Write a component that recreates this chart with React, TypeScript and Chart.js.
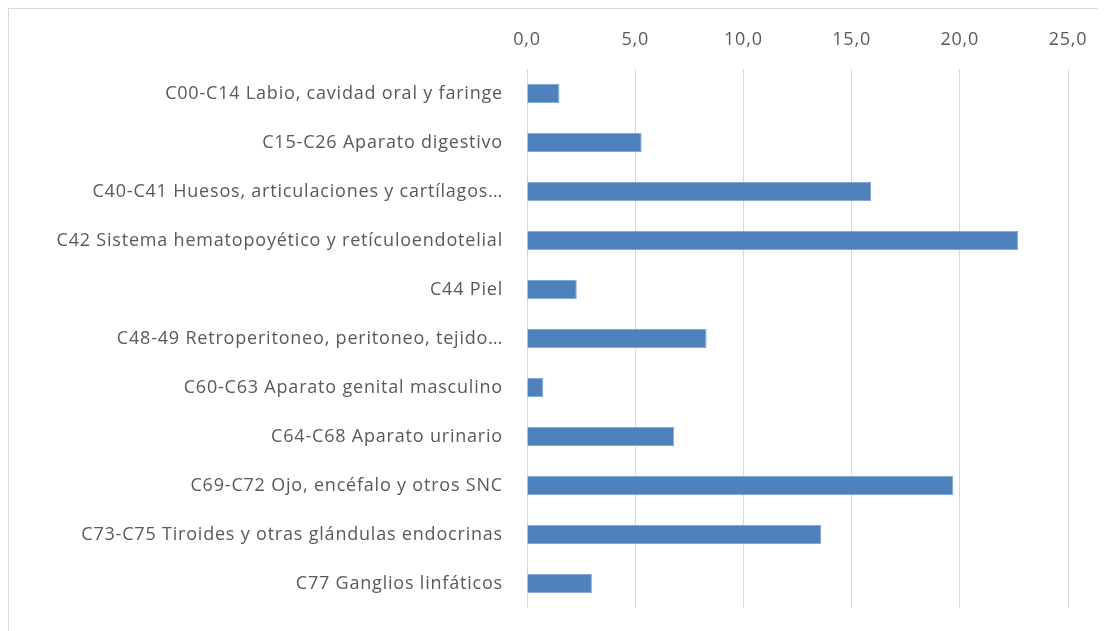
import React, { useEffect, useRef } from "react";
import { Chart, registerables } from "chart.js";

Chart.register(...registerables);

const categories = [
  "C00-C14 Labio, cavidad oral y faringe",
  "C15-C26 Aparato digestivo",
  "C40-C41 Huesos, articulaciones y cartílagos…",
  "C42 Sistema hematopoyético y retículoendotelial",
  "C44 Piel",
  "C48-49 Retroperitoneo, peritoneo, tejido…",
  "C60-C63 Aparato genital masculino",
  "C64-C68 Aparato urinario",
  "C69-C72 Ojo, encéfalo y otros SNC",
  "C73-C75 Tiroides y otras glándulas endocrinas",
  "C77 Ganglios linfáticos",
];

const values = [1.5, 5.3, 15.9, 22.7, 2.3, 8.3, 0.75, 6.8, 19.7, 13.6, 3.0];

const xMin = 0;
const xMax = 25;
const xStep = 5;

const spacingPlugin = {
  id: "letterSpacing",
  beforeDraw: (chart: any) => {
    try {
      (chart.ctx as any).letterSpacing = "0.8px";
    } catch (e) {}
  },
};

export default function App() {
  const ref = useRef<HTMLCanvasElement | null>(null);

  useEffect(() => {
    if (!ref.current) return;
    const font = { family: "'Open Sans', sans-serif", size: 18 };
    const chart = new Chart(ref.current, {
      type: "bar",
      data: {
        labels: categories,
        datasets: [
          {
            data: values,
            backgroundColor: "#4f81bd",
            borderColor: "#86a8d4",
            borderWidth: 1,
            barPercentage: 0.39,
            categoryPercentage: 1,
          },
        ],
      },
      options: {
        indexAxis: "y",
        animation: false,
        responsive: false,
        maintainAspectRatio: false,
        layout: { padding: { top: 0, right: 38, bottom: 23, left: 0 } },
        plugins: { legend: { display: false }, tooltip: { enabled: false } },
        scales: {
          x: {
            position: "top",
            min: xMin,
            max: xMax,
            ticks: {
              stepSize: xStep,
              color: "#595959",
              font,
              padding: 18,
              callback: (v: any) => Number(v).toFixed(1).replace(".", ","),
            },
            grid: { color: "#d9d9d9", lineWidth: 1, drawTicks: false },
            border: { display: false },
            afterFit: (s: any) => {
              s.height = 60;
              s.paddingLeft = 0;
              s.paddingRight = 0;
            },
          },
          y: {
            ticks: { color: "#595959", font, padding: 24, autoSkip: false },
            grid: { display: false, drawTicks: false },
            border: { display: false },
            afterFit: (s: any) => {
              s.width = 518;
              s.paddingTop = 0;
              s.paddingBottom = 0;
            },
          },
        },
      },
      plugins: [spacingPlugin],
    });
    return () => chart.destroy();
  }, []);

  return (
    <div
      style={{
        width: 1097,
        height: 622,
        borderTop: "1px solid #d9d9d9",
        borderLeft: "1px solid #d9d9d9",
        background: "#fff",
        overflow: "hidden",
      }}
    >
      <canvas ref={ref} width={1097} height={622} style={{ display: "block" }} />
    </div>
  );
}
